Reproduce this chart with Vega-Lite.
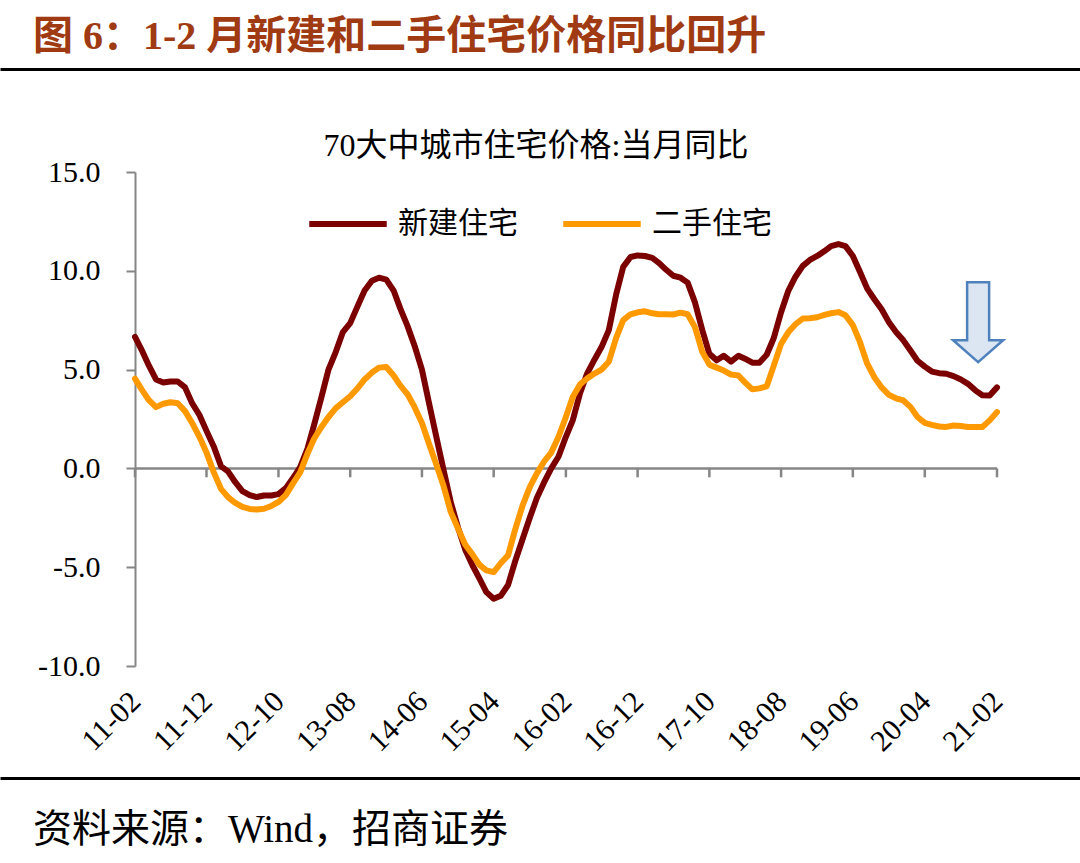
{
  "$schema": "https://vega.github.io/schema/vega-lite/v6.json",
  "padding": {"top": 17, "left": 0, "right": 0, "bottom": 0},
  "background": "white",
  "spacing": 21,
  "config": {"view": {"stroke": null}},
  "resolve": {"scale": {"x": "independent", "y": "independent", "color": "independent"}, "axis": {"x": "independent", "y": "independent"}},
  "vconcat": [
    {
      "width": 1080,
      "height": 40,
      "title": {"text": "图 6：1-2 月新建和二手住宅价格同比回升", "anchor": "start", "dx": 33, "offset": 12, "fontSize": 40, "fontWeight": "bold", "color": "#A03A12", "font": "Liberation Serif, Noto Sans CJK SC"},
      "data": {"values": [{"t": 0.5}]},
      "mark": {"type": "point", "opacity": 0},
      "encoding": {
        "x": {"field": "t", "type": "quantitative", "scale": {"domain": [0, 1], "nice": false}, "axis": {"orient": "top", "labels": false, "ticks": false, "grid": false, "title": null, "domainColor": "#000000", "domainWidth": 3}}
      }
    },
    {
      "width": 1000,
      "height": 494,
      "title": {"text": "70大中城市住宅价格:当月同比", "anchor": "middle", "dx": 36, "offset": -6, "fontSize": 32, "fontWeight": "normal", "color": "#000000", "font": "Liberation Serif, Noto Sans CJK SC"},
      "layer": [
        {
          "data": {"values": [{}]},
          "mark": {"type": "rule", "color": "#868686", "strokeWidth": 2.5},
          "encoding": {
            "x": {"datum": {"year": 2011, "month": 2, "date": 1, "utc": true}, "type": "temporal", "title": null},
            "x2": {"datum": {"year": 2021, "month": 2, "date": 1, "utc": true}},
            "y": {"datum": 0, "type": "quantitative", "title": null}
          }
        },
        {
          "data": {"values": [{"d": "2011-02"}, {"d": "2011-12"}, {"d": "2012-10"}, {"d": "2013-08"}, {"d": "2014-06"}, {"d": "2015-04"}, {"d": "2016-02"}, {"d": "2016-12"}, {"d": "2017-10"}, {"d": "2018-08"}, {"d": "2019-06"}, {"d": "2020-04"}, {"d": "2021-02"}], "format": {"parse": {"d": "utc:'%Y-%m'"}}},
          "mark": {"type": "rule", "color": "#868686", "strokeWidth": 2.5},
          "encoding": {
            "x": {"field": "d", "type": "temporal", "title": null},
            "y": {"datum": 0, "type": "quantitative", "title": null},
            "y2": {"datum": -0.45}
          }
        },
        {
          "data": {
            "values": [
              {"d": "2011-02", "新建住宅": 6.65, "二手住宅": 4.54},
              {"d": "2011-03", "新建住宅": 6.0, "二手住宅": 4.0},
              {"d": "2011-04", "新建住宅": 5.2, "二手住宅": 3.45},
              {"d": "2011-05", "新建住宅": 4.5, "二手住宅": 3.1},
              {"d": "2011-06", "新建住宅": 4.35, "二手住宅": 3.27},
              {"d": "2011-07", "新建住宅": 4.4, "二手住宅": 3.35},
              {"d": "2011-08", "新建住宅": 4.4, "二手住宅": 3.3},
              {"d": "2011-09", "新建住宅": 4.1, "二手住宅": 2.9},
              {"d": "2011-10", "新建住宅": 3.3, "二手住宅": 2.3},
              {"d": "2011-11", "新建住宅": 2.7, "二手住宅": 1.6},
              {"d": "2011-12", "新建住宅": 1.9, "二手住宅": 0.8},
              {"d": "2012-01", "新建住宅": 1.1, "二手住宅": -0.2},
              {"d": "2012-02", "新建住宅": 0.1, "二手住宅": -1.05},
              {"d": "2012-03", "新建住宅": -0.15, "二手住宅": -1.45},
              {"d": "2012-04", "新建住宅": -0.7, "二手住宅": -1.75},
              {"d": "2012-05", "新建住宅": -1.15, "二手住宅": -1.95},
              {"d": "2012-06", "新建住宅": -1.35, "二手住宅": -2.05},
              {"d": "2012-07", "新建住宅": -1.45, "二手住宅": -2.08},
              {"d": "2012-08", "新建住宅": -1.37, "二手住宅": -2.04},
              {"d": "2012-09", "新建住宅": -1.37, "二手住宅": -1.9},
              {"d": "2012-10", "新建住宅": -1.3, "二手住宅": -1.7},
              {"d": "2012-11", "新建住宅": -1.0, "二手住宅": -1.35},
              {"d": "2012-12", "新建住宅": -0.5, "二手住宅": -0.77},
              {"d": "2013-01", "新建住宅": 0.07, "二手住宅": -0.2},
              {"d": "2013-02", "新建住宅": 1.0, "二手住宅": 0.75},
              {"d": "2013-03", "新建住宅": 2.2, "二手住宅": 1.5},
              {"d": "2013-04", "新建住宅": 3.6, "二手住宅": 2.1},
              {"d": "2013-05", "新建住宅": 5.0, "二手住宅": 2.6},
              {"d": "2013-06", "新建住宅": 5.9, "二手住宅": 3.05},
              {"d": "2013-07", "新建住宅": 6.9, "二手住宅": 3.35},
              {"d": "2013-08", "新建住宅": 7.35, "二手住宅": 3.65},
              {"d": "2013-09", "新建住宅": 8.2, "二手住宅": 4.05},
              {"d": "2013-10", "新建住宅": 9.0, "二手住宅": 4.5},
              {"d": "2013-11", "新建住宅": 9.5, "二手住宅": 4.85},
              {"d": "2013-12", "新建住宅": 9.65, "二手住宅": 5.1},
              {"d": "2014-01", "新建住宅": 9.55, "二手住宅": 5.13},
              {"d": "2014-02", "新建住宅": 9.0, "二手住宅": 4.7},
              {"d": "2014-03", "新建住宅": 8.1, "二手住宅": 4.2},
              {"d": "2014-04", "新建住宅": 7.2, "二手住宅": 3.75},
              {"d": "2014-05", "新建住宅": 6.2, "二手住宅": 3.1},
              {"d": "2014-06", "新建住宅": 5.0, "二手住宅": 2.3},
              {"d": "2014-07", "新建住宅": 3.3, "二手住宅": 1.25},
              {"d": "2014-08", "新建住宅": 1.6, "二手住宅": 0.2},
              {"d": "2014-09", "新建住宅": -0.1, "二手住宅": -0.9},
              {"d": "2014-10", "新建住宅": -1.7, "二手住宅": -2.2},
              {"d": "2014-11", "新建住宅": -3.0, "二手住宅": -3.05},
              {"d": "2014-12", "新建住宅": -4.1, "二手住宅": -3.85},
              {"d": "2015-01", "新建住宅": -4.9, "二手住宅": -4.35},
              {"d": "2015-02", "新建住宅": -5.6, "二手住宅": -4.9},
              {"d": "2015-03", "新建住宅": -6.26, "二手住宅": -5.16},
              {"d": "2015-04", "新建住宅": -6.6, "二手住宅": -5.25},
              {"d": "2015-05", "新建住宅": -6.45, "二手住宅": -4.8},
              {"d": "2015-06", "新建住宅": -5.9, "二手住宅": -4.4},
              {"d": "2015-07", "新建住宅": -4.7, "二手住宅": -3.1},
              {"d": "2015-08", "新建住宅": -3.6, "二手住宅": -1.9},
              {"d": "2015-09", "新建住宅": -2.5, "二手住宅": -0.95},
              {"d": "2015-10", "新建住宅": -1.5, "二手住宅": -0.25},
              {"d": "2015-11", "新建住宅": -0.7, "二手住宅": 0.35},
              {"d": "2015-12", "新建住宅": 0.0, "二手住宅": 0.8},
              {"d": "2016-01", "新建住宅": 0.6, "二手住宅": 1.6},
              {"d": "2016-02", "新建住宅": 1.6, "二手住宅": 2.6},
              {"d": "2016-03", "新建住宅": 2.43, "二手住宅": 3.61},
              {"d": "2016-04", "新建住宅": 3.8, "二手住宅": 4.25},
              {"d": "2016-05", "新建住宅": 4.8, "二手住宅": 4.55},
              {"d": "2016-06", "新建住宅": 5.5, "二手住宅": 4.8},
              {"d": "2016-07", "新建住宅": 6.14, "二手住宅": 5.0},
              {"d": "2016-08", "新建住宅": 7.0, "二手住宅": 5.4},
              {"d": "2016-09", "新建住宅": 8.8, "二手住宅": 6.6},
              {"d": "2016-10", "新建住宅": 10.2, "二手住宅": 7.5},
              {"d": "2016-11", "新建住宅": 10.7, "二手住宅": 7.8},
              {"d": "2016-12", "新建住宅": 10.78, "二手住宅": 7.9},
              {"d": "2017-01", "新建住宅": 10.75, "二手住宅": 7.95},
              {"d": "2017-02", "新建住宅": 10.65, "二手住宅": 7.85},
              {"d": "2017-03", "新建住宅": 10.4, "二手住宅": 7.8},
              {"d": "2017-04", "新建住宅": 10.05, "二手住宅": 7.8},
              {"d": "2017-05", "新建住宅": 9.75, "二手住宅": 7.79},
              {"d": "2017-06", "新建住宅": 9.65, "二手住宅": 7.88},
              {"d": "2017-07", "新建住宅": 9.4, "二手住宅": 7.8},
              {"d": "2017-08", "新建住宅": 8.4, "二手住宅": 7.15},
              {"d": "2017-09", "新建住宅": 7.0, "二手住宅": 5.9},
              {"d": "2017-10", "新建住宅": 5.8, "二手住宅": 5.25},
              {"d": "2017-11", "新建住宅": 5.47, "二手住宅": 5.1},
              {"d": "2017-12", "新建住宅": 5.7, "二手住宅": 4.95},
              {"d": "2018-01", "新建住宅": 5.4, "二手住宅": 4.75},
              {"d": "2018-02", "新建住宅": 5.7, "二手住宅": 4.7},
              {"d": "2018-03", "新建住宅": 5.55, "二手住宅": 4.35},
              {"d": "2018-04", "新建住宅": 5.35, "二手住宅": 4.0},
              {"d": "2018-05", "新建住宅": 5.35, "二手住宅": 4.05},
              {"d": "2018-06", "新建住宅": 5.75, "二手住宅": 4.15},
              {"d": "2018-07", "新建住宅": 6.6, "二手住宅": 5.2},
              {"d": "2018-08", "新建住宅": 7.9, "二手住宅": 6.3},
              {"d": "2018-09", "新建住宅": 9.0, "二手住宅": 6.9},
              {"d": "2018-10", "新建住宅": 9.7, "二手住宅": 7.3},
              {"d": "2018-11", "新建住宅": 10.25, "二手住宅": 7.58},
              {"d": "2018-12", "新建住宅": 10.55, "二手住宅": 7.6},
              {"d": "2019-01", "新建住宅": 10.75, "二手住宅": 7.65},
              {"d": "2019-02", "新建住宅": 11.0, "二手住宅": 7.77},
              {"d": "2019-03", "新建住宅": 11.25, "二手住宅": 7.85},
              {"d": "2019-04", "新建住宅": 11.35, "二手住宅": 7.91},
              {"d": "2019-05", "新建住宅": 11.25, "二手住宅": 7.75},
              {"d": "2019-06", "新建住宅": 10.75, "二手住宅": 7.25},
              {"d": "2019-07", "新建住宅": 9.95, "二手住宅": 6.4},
              {"d": "2019-08", "新建住宅": 9.1, "二手住宅": 5.3},
              {"d": "2019-09", "新建住宅": 8.55, "二手住宅": 4.6},
              {"d": "2019-10", "新建住宅": 8.05, "二手住宅": 4.1},
              {"d": "2019-11", "新建住宅": 7.4, "二手住宅": 3.72},
              {"d": "2019-12", "新建住宅": 6.9, "二手住宅": 3.55},
              {"d": "2020-01", "新建住宅": 6.48, "二手住宅": 3.44},
              {"d": "2020-02", "新建住宅": 5.95, "二手住宅": 3.1},
              {"d": "2020-03", "新建住宅": 5.45, "二手住宅": 2.6},
              {"d": "2020-04", "新建住宅": 5.15, "二手住宅": 2.3},
              {"d": "2020-05", "新建住宅": 4.9, "二手住宅": 2.2},
              {"d": "2020-06", "新建住宅": 4.82, "二手住宅": 2.12},
              {"d": "2020-07", "新建住宅": 4.79, "二手住宅": 2.1},
              {"d": "2020-08", "新建住宅": 4.67, "二手住宅": 2.17},
              {"d": "2020-09", "新建住宅": 4.5, "二手住宅": 2.15},
              {"d": "2020-10", "新建住宅": 4.28, "二手住宅": 2.1},
              {"d": "2020-11", "新建住宅": 3.95, "二手住宅": 2.09},
              {"d": "2020-12", "新建住宅": 3.7, "二手住宅": 2.1},
              {"d": "2021-01", "新建住宅": 3.69, "二手住宅": 2.43},
              {"d": "2021-02", "新建住宅": 4.1, "二手住宅": 2.85}
            ],
            "format": {"parse": {"d": "utc:'%Y-%m'"}}
          },
          "transform": [{"fold": ["新建住宅", "二手住宅"], "as": ["series", "value"]}],
          "mark": {"type": "line", "strokeWidth": 6, "strokeJoin": "round", "strokeCap": "round"},
          "encoding": {
            "x": {
              "field": "d", "type": "temporal", "title": null,
              "scale": {"type": "utc", "domain": [{"year": 2011, "month": 2, "date": 1, "utc": true}, {"year": 2021, "month": 2, "date": 1, "utc": true}], "nice": false, "range": [135, 997]},
              "axis": {
                "values": [
                  {"year": 2011, "month": 2, "date": 1, "utc": true},
                  {"year": 2011, "month": 12, "date": 1, "utc": true},
                  {"year": 2012, "month": 10, "date": 1, "utc": true},
                  {"year": 2013, "month": 8, "date": 1, "utc": true},
                  {"year": 2014, "month": 6, "date": 1, "utc": true},
                  {"year": 2015, "month": 4, "date": 1, "utc": true},
                  {"year": 2016, "month": 2, "date": 1, "utc": true},
                  {"year": 2016, "month": 12, "date": 1, "utc": true},
                  {"year": 2017, "month": 10, "date": 1, "utc": true},
                  {"year": 2018, "month": 8, "date": 1, "utc": true},
                  {"year": 2019, "month": 6, "date": 1, "utc": true},
                  {"year": 2020, "month": 4, "date": 1, "utc": true},
                  {"year": 2021, "month": 2, "date": 1, "utc": true}
                ],
                "labelExpr": "utcFormat(datum.value, '%y-%m')",
                "labelAngle": -45,
                "labelFont": "Liberation Serif",
                "labelFontSize": 30,
                "labelColor": "#000000",
                "labelPadding": 20,
                "labelOffset": -10,
                "labelOverlap": false,
                "labelFlush": false,
                "ticks": false,
                "tickSize": 0,
                "domain": false,
                "grid": false,
                "title": null
              }
            },
            "y": {
              "field": "value", "type": "quantitative", "title": null,
              "scale": {"domain": [-10, 15], "nice": false, "zero": false},
              "axis": {
                "values": [-10, -5, 0, 5, 10, 15],
                "labelExpr": "datum.value < 0 ? '-' + format(-datum.value, '.1f') : format(datum.value, '.1f')",
                "labelFont": "Liberation Serif",
                "labelFontSize": 30,
                "labelColor": "#000000",
                "labelPadding": 26,
                "tickSize": 9,
                "tickWidth": 2,
                "tickColor": "#868686",
                "domainColor": "#868686",
                "domainWidth": 2,
                "grid": false,
                "offset": -135,
                "title": null
              }
            },
            "color": {
              "field": "series", "type": "nominal",
              "scale": {"domain": ["新建住宅", "二手住宅"], "range": ["#7B0000", "#FF9900"]},
              "legend": {
                "orient": "none", "legendX": 306, "legendY": 10, "direction": "horizontal", "title": null,
                "symbolType": "stroke", "symbolSize": 6000, "symbolStrokeWidth": 6,
                "labelFont": "Liberation Serif, Noto Sans CJK SC", "labelFontSize": 30, "labelColor": "#000000",
                "labelOffset": 8, "columnPadding": 33, "labelLimit": 300
              }
            }
          }
        },
        {
          "data": {"values": [{}]},
          "mark": {"type": "point", "shape": "M-0.275,-1L0.275,-1L0.275,0.45L0.625,0.45L0,1L-0.625,0.45L-0.275,0.45Z", "size": 6400, "filled": true, "fill": "#DCE6F2", "fillOpacity": 1, "stroke": "#4F81BD", "strokeWidth": 2.5, "opacity": 1},
          "encoding": {
            "x": {"datum": {"year": 2020, "month": 11, "date": 13, "utc": true}, "type": "temporal", "title": null},
            "y": {"datum": 7.4, "type": "quantitative", "title": null}
          }
        }
      ]
    },
    {
      "width": 1080,
      "height": 20,
      "title": {"text": "资料来源：Wind，招商证券", "orient": "bottom", "anchor": "start", "dx": 33, "offset": 13, "fontSize": 39, "fontWeight": "normal", "color": "#000000", "font": "Liberation Serif, Noto Sans CJK SC"},
      "data": {"values": [{"t": 0.5}]},
      "mark": {"type": "point", "opacity": 0},
      "encoding": {
        "x": {"field": "t", "type": "quantitative", "scale": {"domain": [0, 1], "nice": false}, "axis": {"orient": "top", "labels": false, "ticks": false, "grid": false, "title": null, "domainColor": "#000000", "domainWidth": 3}}
      }
    }
  ]
}
